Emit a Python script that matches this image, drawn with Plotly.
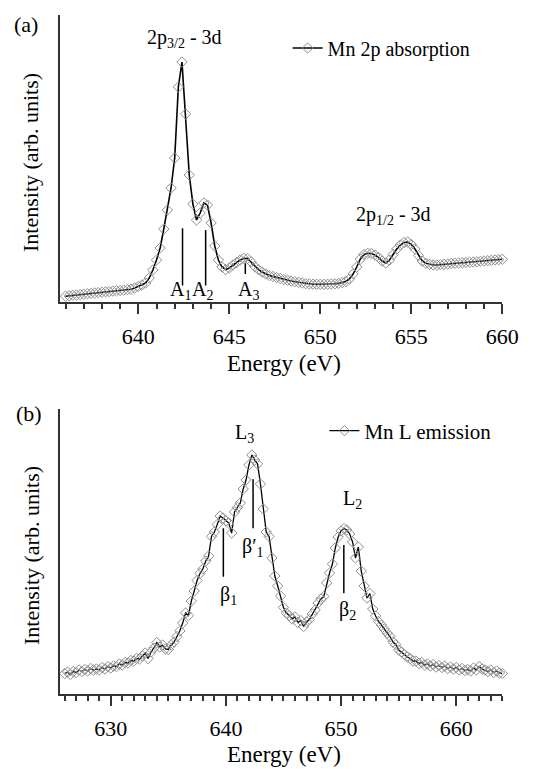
import plotly.graph_objects as go

W, H = 538, 769
FONT = "'Liberation Serif', 'Times New Roman', Times, 'DejaVu Serif', serif"

# ---------------- Panel (a): Mn 2p absorption ----------------
abs_energy = [636.0 + 0.2 * i for i in range(121)]
abs_intensity = [
    5.8, 6.2, 6.7, 7.0, 7.4, 7.8, 8.2, 8.6, 9.0, 9.4,
    9.8, 10.2, 10.5, 10.9, 11.2, 11.5, 11.9, 12.3, 12.8, 14.0,
    15.5, 17.0, 19.0, 24.0, 32.0, 42.0, 54.0, 73.0, 92.0, 114.0,
    144.0, 215.0, 240.0, 188.0, 127.0, 98.0, 82.0, 89.0, 99.0, 97.0,
    79.0, 56.0, 42.0, 35.0, 32.5, 34.0, 37.0, 39.5, 42.0, 43.7,
    43.5, 40.0, 35.5, 32.5, 30.0, 28.0, 26.5, 25.5, 24.5, 23.5,
    22.5, 21.8, 21.0, 20.3, 19.7, 19.0, 18.3, 18.0, 17.8, 17.7,
    17.7, 17.7, 17.8, 18.0, 18.2, 18.6, 19.5, 20.5, 23.0, 28.0,
    35.0, 43.0, 47.5, 48.7, 48.5, 47.0, 44.5, 41.0, 39.0, 42.0,
    47.5, 53.0, 57.0, 59.5, 60.0, 57.5, 53.0, 46.5, 41.0, 38.7,
    37.7, 37.0, 37.0, 37.3, 37.7, 38.0, 38.5, 38.7, 39.0, 39.2,
    39.5, 39.8, 40.0, 40.3, 40.6, 41.0, 41.3, 41.7, 42.0, 42.3,
    42.7,
]
abs_marks = ["A<sub>1</sub>", "A<sub>2</sub>", "A<sub>3</sub>"]
abs_mark_energy = [642.43, 643.70, 645.88]
abs_mark_top = [73.7, 72.0, 38.7]
abs_mark_bottom = [16.5, 16.5, 28.0]
abs_mark_label_x = [642.3, 643.55, 646.05]

# ---------------- Panel (b): Mn L emission ----------------
em_energy = [626.0 + 0.25 * i for i in range(153)]
em_intensity = [
    20.5, 22.0, 19.5, 22.5, 21.5, 24.0, 22.5, 24.5, 23.0, 25.5,
    24.0, 25.0, 24.0, 26.5, 25.0, 27.5, 26.0, 28.0, 27.5, 30.0,
    29.0, 31.5, 31.0, 33.5, 33.0, 35.5, 35.0, 38.0, 41.0, 35.5,
    42.0, 46.0, 51.5, 47.0, 49.0, 45.0, 44.5, 49.0, 52.0, 57.5,
    63.0, 71.0, 81.0, 78.5, 93.0, 103.0, 113.5, 120.5, 125.0, 133.0,
    138.0, 157.5, 162.0, 169.5, 178.0, 176.0, 173.0, 171.0, 161.0, 182.0,
    186.5, 191.0, 205.0, 214.0, 229.0, 239.0, 234.0, 230.0, 210.0, 185.0,
    162.0, 157.5, 136.0, 118.0, 108.0, 98.0, 86.5, 81.0, 78.5, 75.0,
    77.0, 71.5, 73.5, 67.5, 72.0, 74.5, 80.0, 84.0, 91.0, 95.0,
    97.5, 111.0, 121.0, 130.0, 146.0, 157.0, 163.0, 165.5, 164.0, 160.0,
    152.0, 136.0, 147.0, 123.0, 108.0, 96.0, 100.5, 85.0, 78.0, 72.5,
    69.0, 65.0, 61.0, 57.5, 52.0, 49.5, 44.0, 42.0, 39.5, 37.0,
    35.5, 33.0, 33.0, 30.5, 31.5, 29.0, 30.0, 28.0, 29.5, 27.0,
    28.5, 26.5, 28.0, 25.5, 27.0, 25.0, 26.5, 24.0, 25.5, 23.5,
    24.5, 23.0, 26.0, 24.0, 27.5, 25.0, 24.0, 22.5, 24.0, 21.5,
    23.0, 21.0, 20.5,
]
em_marks = ["β<sub>1</sub>", "β′<sub>1</sub>", "β<sub>2</sub>"]
em_mark_energy = [639.78, 642.36, 650.24]
em_mark_top = [165.7, 214.7, 149.0]
em_mark_bottom = [117.3, 165.7, 100.7]
em_mark_label_x = [640.2, 642.35, 650.6]
em_mark_label_y = [99.0, 147.0, 84.0]


def px(x):
    return x / W


def py(y):
    return 1 - y / H


fig = go.Figure()

marker_style = dict(symbol="diamond-open", size=8, color="#8f8f8f",
                    line=dict(width=1, color="#8f8f8f"))

fig.add_trace(go.Scatter(
    x=abs_energy, y=abs_intensity, mode="lines+markers",
    name="Mn 2p absorption", line=dict(color="black", width=1.6),
    marker=marker_style,
    xaxis="x", yaxis="y", cliponaxis=False, legend="legend",
))
fig.add_trace(go.Scatter(
    x=em_energy, y=em_intensity, mode="lines+markers",
    name="Mn L emission", line=dict(color="black", width=1.3),
    marker=marker_style,
    xaxis="x2", yaxis="y2", cliponaxis=False, legend="legend2",
))

axis_common = dict(
    showline=True, linecolor="#333333", linewidth=1.8,
    showgrid=False, zeroline=False,
)
xdom = [px(62), px(518.7)]
tickfont = dict(family=FONT, size=22, color="black")

fig.update_layout(
    width=W, height=H,
    margin=dict(l=0, r=0, t=0, b=0),
    paper_bgcolor="white", plot_bgcolor="white",
    font=dict(family=FONT, color="black"),
    xaxis=dict(
        domain=xdom, range=[635.7, 660], anchor="y",
        ticks="outside", ticklen=10, tickwidth=1.5, tickcolor="#333333",
        tick0=640, dtick=5, tickfont=tickfont, ticklabelstandoff=4,
        minor=dict(dtick=1, ticks="outside", ticklen=5, tickwidth=1.5,
                   tickcolor="#333333"),
        **axis_common,
    ),
    yaxis=dict(
        domain=[py(302), py(15)], range=[0, 287], anchor="x",
        showticklabels=False, ticks="", **axis_common,
    ),
    xaxis2=dict(
        domain=xdom, range=[625.6, 664], anchor="y2",
        ticks="outside", ticklen=10, tickwidth=1.5, tickcolor="#333333",
        tick0=630, dtick=10, tickfont=tickfont, ticklabelstandoff=4,
        minor=dict(dtick=1, ticks="outside", ticklen=5, tickwidth=1.5,
                   tickcolor="#333333"),
        **axis_common,
    ),
    yaxis2=dict(
        domain=[py(694), py(409)], range=[0, 285], anchor="x2",
        showticklabels=False, ticks="", **axis_common,
    ),
    legend=dict(
        x=px(297), y=py(48), xanchor="left", yanchor="middle",
        font=dict(family=FONT, size=20, color="black"),
        bgcolor="rgba(0,0,0,0)", borderwidth=0,
    ),
    legend2=dict(
        x=px(335), y=py(431), xanchor="left", yanchor="middle",
        font=dict(family=FONT, size=21, color="black"),
        bgcolor="rgba(0,0,0,0)", borderwidth=0,
    ),
    showlegend=True,
)

annotations = []
shapes = []


def paper_text(text, x, y, size=22, angle=0):
    annotations.append(dict(
        text=text, x=px(x), y=py(y), xref="paper", yref="paper",
        xanchor="center", yanchor="middle", showarrow=False,
        textangle=angle, font=dict(family=FONT, size=size, color="black"),
    ))


paper_text("(a)", 27, 24)
paper_text("(b)", 30, 414)
paper_text("Intensity (arb. units)", 32, 162, angle=-90)
paper_text("Intensity (arb. units)", 32, 555, angle=-90)
paper_text("Energy (eV)", 293, 364, size=23)
paper_text("Energy (eV)", 293, 754, size=23)
paper_text("2p<sub>3/2</sub> - 3d", 191, 38, size=20)
paper_text("2p<sub>1/2</sub> - 3d", 406, 215, size=20)
paper_text("L<sub>3</sub>", 252, 434, size=20)
paper_text("L<sub>2</sub>", 364, 500, size=20)

for lab, e, top, bot, lx in zip(abs_marks, abs_mark_energy, abs_mark_top,
                                abs_mark_bottom, abs_mark_label_x):
    shapes.append(dict(type="line", xref="x", yref="y", x0=e, x1=e,
                       y0=bot, y1=top, line=dict(color="black", width=1.5)))
    annotations.append(dict(
        text=lab, x=lx, y=12, xref="x", yref="y", xanchor="center",
        yanchor="middle", showarrow=False,
        font=dict(family=FONT, size=20, color="black"),
    ))

for lab, e, top, bot, lx, ly in zip(em_marks, em_mark_energy, em_mark_top,
                                    em_mark_bottom, em_mark_label_x,
                                    em_mark_label_y):
    shapes.append(dict(type="line", xref="x2", yref="y2", x0=e, x1=e,
                       y0=bot, y1=top, line=dict(color="black", width=1.5)))
    annotations.append(dict(
        text=lab, x=lx, y=ly, xref="x2", yref="y2", xanchor="center",
        yanchor="middle", showarrow=False,
        font=dict(family=FONT, size=20, color="black"),
    ))

fig.update_layout(annotations=annotations, shapes=shapes)

fig.write_html("out.html")
